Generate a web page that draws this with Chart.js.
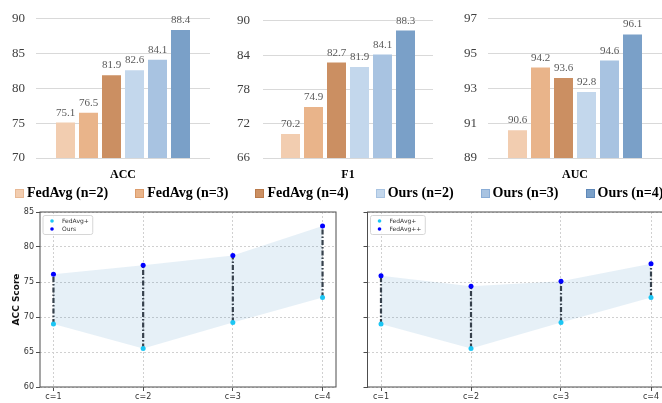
<!DOCTYPE html>
<html>
<head>
<meta charset="utf-8">
<script src="https://cdn.jsdelivr.net/npm/chart.js@4.4.1/dist/chart.umd.min.js"></script>
<style>
  html, body { margin: 0; padding: 0; background: #fff; width: 662px; height: 403px; overflow: hidden; position: relative; }
  canvas { position: absolute; }
  #legend { position: absolute; left: 15px; top: 185px; display: flex; gap: 27px;
            font: bold 14px "Liberation Serif", "Times New Roman", serif; color: #000; white-space: nowrap; line-height: 16px; }
  #legend .item { display: flex; align-items: center; }
  #legend .sw { width: 7px; height: 7px; margin-right: 3px; border: 1px solid; }
</style>
</head>
<body>
<canvas id="accChart" width="210" height="190" style="left:0;top:0"></canvas>
<canvas id="f1Chart" width="213" height="190" style="left:220px;top:0"></canvas>
<canvas id="aucChart" width="222" height="190" style="left:440px;top:0"></canvas>
<div id="legend"></div>
<canvas id="oursChart" width="340" height="198" style="left:0;top:205px"></canvas>
<canvas id="plusChart" width="340" height="198" style="left:330px;top:205px"></canvas>
<script>
// ---- data ----
const groupNames = ['FedAvg (n=2)', 'FedAvg (n=3)', 'FedAvg (n=4)', 'Ours (n=2)', 'Ours (n=3)', 'Ours (n=4)'];
const accValues = [75.1, 76.5, 81.9, 82.6, 84.1, 88.4];
const f1Values  = [70.2, 74.9, 82.7, 81.9, 84.1, 88.3];
const aucValues = [90.6, 94.2, 93.6, 92.8, 94.6, 96.1];
const accTicks = [70, 90, 5];
const f1Ticks  = [66, 90, 6];
const aucTicks = [89, 97, 2];

const clientLabels = ['c=1', 'c=2', 'c=3', 'c=4'];
const clientPositions = [1, 2, 3, 4];
const fedAvgPlus     = [69.0, 65.5, 69.2, 72.8];
const oursScores     = [76.1, 77.4, 78.8, 83.0];
const fedAvgPlusPlus = [75.9, 74.4, 75.1, 77.6];
const scoreTicks = [60, 85, 5];

// ---- styles ----
const barColors = ['#F2CDB0', '#E9B48A', '#CB8F62', '#C3D7EC', '#A8C3E1', '#7AA0C8'];
const swatchBorders = ['#E8B995', '#DC9C6C', '#B97A4B', '#A9C4E2', '#8AADD6', '#5F88B8'];
const serif = '"Liberation Serif", "Times New Roman", serif';
const sans = '"DejaVu Sans", sans-serif';

// value printed above each bar
const valueLabels = {
  id: 'valueLabels',
  afterDatasetsDraw(chart) {
    const ctx = chart.ctx;
    ctx.save();
    ctx.font = '11px ' + serif;
    ctx.fillStyle = '#595959';
    ctx.textAlign = 'center';
    ctx.textBaseline = 'alphabetic';
    chart.data.datasets.forEach((ds, i) => {
      chart.getDatasetMeta(i).data.forEach((bar, j) => {
        ctx.fillText(ds.data[j].toFixed(1), bar.x, bar.y - 7);
      });
    });
    ctx.restore();
  }
};

function barChart(id, title, values, range, yWidth, tickPad) {
  const canvas = document.getElementById(id);
  const plotW = canvas.width - yWidth;
  new Chart(canvas, {
    type: 'bar',
    data: {
      labels: [''],
      datasets: groupNames.map((name, i) => ({
        label: name,
        data: [values[i]],
        backgroundColor: barColors[i],
        borderWidth: 0,
        categoryPercentage: 138 / plotW,
        barPercentage: 19 / 23
      }))
    },
    options: {
      responsive: false,
      animation: false,
      layout: { padding: { top: 15, left: 0, right: 0, bottom: 0 } },
      plugins: { legend: { display: false }, tooltip: { enabled: false } },
      scales: {
        x: {
          grid: { display: false },
          border: { display: false },
          ticks: { display: false },
          title: { display: true, text: title, color: '#000',
                   font: { family: serif, size: 12, weight: 'bold' },
                   padding: { top: 0, bottom: 7.8 } },
          afterFit(a) { a.height = 32; }
        },
        y: {
          min: range[0], max: range[1],
          ticks: { stepSize: range[2], padding: tickPad, color: '#404040',
                   font: { family: serif, size: 13 } },
          grid: { color: '#d9d9d9', lineWidth: 1, drawTicks: false },
          border: { display: false },
          afterFit(a) { a.width = yWidth; }
        }
      }
    },
    plugins: [valueLabels]
  });
}

barChart('accChart', 'ACC', accValues, accTicks, 36, 11);
barChart('f1Chart', 'F1', f1Values, f1Ticks, 43, 13);
barChart('aucChart', 'AUC', aucValues, aucTicks, 48, 11);

// shared legend for the three bar charts
const legendEl = document.getElementById('legend');
groupNames.forEach((name, i) => {
  const item = document.createElement('div');
  item.className = 'item';
  const sw = document.createElement('span');
  sw.className = 'sw';
  sw.style.background = barColors[i];
  sw.style.borderColor = swatchBorders[i];
  const txt = document.createElement('span');
  txt.textContent = name;
  item.appendChild(sw);
  item.appendChild(txt);
  legendEl.appendChild(item);
});

// axes frame on all four sides
const frame = {
  id: 'frame',
  afterDatasetsDraw(chart) {
    const { ctx, chartArea: a } = chart;
    ctx.save();
    ctx.strokeStyle = '#4d4d4d';
    ctx.lineWidth = 1;
    ctx.strokeRect(a.left, a.top, a.right - a.left, a.bottom - a.top);
    ctx.restore();
  }
};

// boxed legend in the upper-left corner of the plot
const cornerLegend = {
  id: 'cornerLegend',
  afterDraw(chart) {
    const { ctx, chartArea: a } = chart;
    const items = chart.data.datasets.filter(d => d.label);
    ctx.save();
    ctx.font = '6px ' + sans;
    const tw = Math.max(...items.map(d => ctx.measureText(d.label).width));
    const bx = a.left + 3, by = a.top + 3.5;
    const bw = 19 + tw + 4, bh = 19;
    ctx.beginPath();
    ctx.roundRect(bx, by, bw, bh, 2);
    ctx.fillStyle = 'rgba(255,255,255,0.85)';
    ctx.fill();
    ctx.strokeStyle = '#d6d6d6';
    ctx.lineWidth = 1;
    ctx.stroke();
    items.forEach((d, i) => {
      const y = by + 5.5 + i * 8;
      ctx.beginPath();
      ctx.arc(bx + 9, y, 1.8, 0, Math.PI * 2);
      ctx.fillStyle = d.pointBackgroundColor;
      ctx.fill();
      ctx.fillStyle = '#333';
      ctx.textBaseline = 'middle';
      ctx.textAlign = 'left';
      ctx.fillText(d.label, bx + 19, y);
    });
    ctx.restore();
  }
};

function bandChart(id, upper, upperName, yTitle, yWidth, padRight) {
  const pts = vals => clientPositions.map((x, i) => ({ x, y: vals[i] }));
  const connectors = clientPositions.map((x, i) => ({
    data: [{ x, y: fedAvgPlus[i] }, { x, y: upper[i] }],
    borderColor: '#36414c', borderWidth: 2.2, borderDash: [5, 2, 1.5, 2],
    pointRadius: 0, fill: false, order: 1
  }));
  const datasets = [
    { data: pts(upper), borderColor: 'transparent', borderWidth: 0, pointRadius: 0,
      backgroundColor: 'rgba(31,119,180,0.11)', fill: '+1', order: 2 },
    { data: pts(fedAvgPlus), borderColor: 'transparent', borderWidth: 0, pointRadius: 0,
      fill: false, order: 2 },
    ...connectors,
    { label: 'FedAvg+', data: pts(fedAvgPlus), showLine: false, pointRadius: 2.5,
      pointBackgroundColor: '#1cc6f4', pointBorderWidth: 0, order: 0 },
    { label: upperName, data: pts(upper), showLine: false, pointRadius: 2.5,
      pointBackgroundColor: '#0000ff', pointBorderWidth: 0, order: 0 }
  ];
  const tickFont = { family: sans, size: 8 };
  new Chart(document.getElementById(id), {
    type: 'line',
    data: { datasets },
    options: {
      responsive: false,
      animation: false,
      layout: { padding: { top: 7, left: 0, right: padRight, bottom: 0 } },
      plugins: { legend: { display: false }, tooltip: { enabled: false } },
      scales: {
        x: {
          type: 'linear', min: 0.85, max: 4.15,
          afterBuildTicks(a) { a.ticks = clientPositions.map(v => ({ value: v })); },
          ticks: { callback: v => clientLabels[clientPositions.indexOf(v)],
                   color: '#333', font: tickFont, padding: 1, maxRotation: 0 },
          grid: { color: '#d0d0d0', tickColor: '#4d4d4d', tickLength: 4, tickBorderDash: [] },
          border: { display: false, dash: [2, 2] },
          afterFit(a) { a.height = 16; }
        },
        y: {
          min: scoreTicks[0], max: scoreTicks[1],
          ticks: { stepSize: scoreTicks[2], display: !!yTitle, color: '#333', font: tickFont, padding: 2 },
          grid: { color: '#d0d0d0', tickColor: '#4d4d4d', tickLength: 4, tickBorderDash: [] },
          border: { display: false, dash: [2, 2] },
          title: { display: !!yTitle, text: yTitle, color: '#111',
                   font: { family: sans, size: 9, weight: 'bold' }, padding: { top: 11.6, bottom: 0 } },
          afterFit(a) { a.width = yWidth; }
        }
      }
    },
    plugins: [frame, cornerLegend]
  });
}

bandChart('oursChart', oursScores, 'Ours', 'ACC Score', 40, 2);
bandChart('plusChart', fedAvgPlusPlus, 'FedAvg++', '', 37.5, 5.5);
</script>
</body>
</html>
